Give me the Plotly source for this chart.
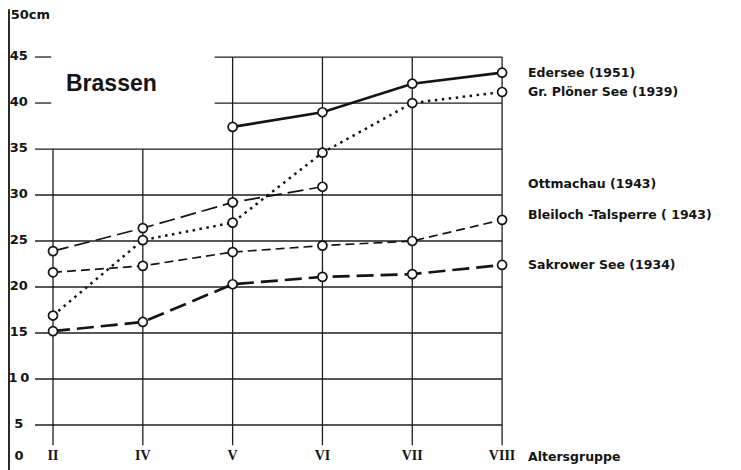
import plotly.graph_objects as go

# ---- data ----
age_groups = ["II", "IV", "V", "VI", "VII", "VIII"]
xpos = list(range(len(age_groups)))

edersee = [None, None, 37.4, 39.0, 42.1, 43.3]
ploener = [16.9, 25.1, 27.0, 34.6, 40.0, 41.2]
ottmachau = [23.9, 26.4, 29.2, 30.9, None, None]
bleiloch = [21.6, 22.3, 23.8, 24.5, 25.0, 27.3]
sakrow = [15.2, 16.2, 20.3, 21.1, 21.4, 22.4]

series_names = ["Edersee (1951)", "Gr. Plöner See (1939)", "Ottmachau (1943)",
                "Bleiloch -Talsperre ( 1943)", "Sakrower See (1934)"]
label_y = [43.3, 41.2, 31.2, 27.9, 22.4]

y_ticks = [5, 10, 15, 20, 25, 30, 35, 40, 45]
y_tick_labels = ["5", "1\u20090", "15", "20", "25", "30", "35", "40", "45"]

INK = "#141414"
GRID = "#1e1e1e"
fig = go.Figure()

# ---- grid (shapes in data coordinates) ----
shapes = []
x_left_grid = -0.2
for v in y_ticks:
    if v >= 40:
        shapes.append(dict(type="line", x0=x_left_grid, x1=-0.02, y0=v, y1=v, layer="below",
                           line=dict(color=GRID, width=1.3)))
        shapes.append(dict(type="line", x0=1.8, x1=xpos[-1], y0=v, y1=v, layer="below",
                           line=dict(color=GRID, width=1.3)))
    else:
        shapes.append(dict(type="line", x0=x_left_grid, x1=xpos[-1], y0=v, y1=v, layer="below",
                           line=dict(color=GRID, width=1.3)))
for i in xpos:
    top = 35 if i < 2 else 45
    shapes.append(dict(type="line", x0=i, x1=i, y0=2.8, y1=top, layer="below",
                       line=dict(color=GRID, width=1.3)))
# left axis line
shapes.append(dict(type="line", x0=-0.49, x1=-0.49, y0=0, y1=50.2, layer="below",
                   line=dict(color=INK, width=1.8)))

marker = dict(symbol="circle", size=9, color="white", line=dict(color=INK, width=1.7))

styles = [
    dict(width=2.7, dash="solid"),
    dict(width=2.5, dash="2.5px,4.5px"),
    dict(width=1.7, dash="16px,6px"),
    dict(width=1.7, dash="9px,5px"),
    dict(width=2.7, dash="17px,7px"),
]
for ys, st, nm in zip([edersee, ploener, ottmachau, bleiloch, sakrow], styles, series_names):
    fig.add_trace(go.Scatter(x=xpos, y=ys, mode="lines+markers", name=nm,
                             line=dict(color=INK, width=st["width"], dash=st["dash"]),
                             marker=marker, connectgaps=False, showlegend=False))

LAB_FONT = dict(family="DejaVu Sans", size=12.5, color=INK, weight="bold")
# series labels
for nm, ly in zip(series_names, label_y):
    fig.add_annotation(x=5.27, y=ly, text=nm, showarrow=False, xanchor="left",
                       yanchor="middle", font=LAB_FONT)

# x tick labels (age groups)
fig.add_trace(go.Scatter(x=xpos, y=[1.6] * len(xpos), mode="text", text=age_groups,
                         textposition="middle center", cliponaxis=False,
                         textfont=dict(family="Liberation Serif", size=14, color=INK, weight="bold"),
                         showlegend=False, hoverinfo="skip"))
# y tick labels
TICK_FONT = dict(family="DejaVu Sans", size=13, color=INK, weight="bold")
fig.add_trace(go.Scatter(x=[-0.38] * len(y_ticks), y=y_ticks, mode="text", text=y_tick_labels,
                         textposition="middle center", cliponaxis=False,
                         textfont=TICK_FONT, showlegend=False, hoverinfo="skip"))
fig.add_trace(go.Scatter(x=[-0.379], y=[1.6], mode="text", text=["0"],
                         textposition="middle center", cliponaxis=False,
                         textfont=TICK_FONT, showlegend=False, hoverinfo="skip"))
fig.add_trace(go.Scatter(x=[-0.47], y=[49.45], mode="text", text=["50cm"],
                         textposition="middle right", cliponaxis=False,
                         textfont=TICK_FONT, showlegend=False, hoverinfo="skip"))
fig.add_annotation(x=5.27, y=1.6, text="Altersgruppe", showarrow=False, xanchor="left",
                   font=LAB_FONT)
fig.add_annotation(x=0.12, y=42.2, text="Brassen", showarrow=False, xanchor="left",
                   font=dict(family="Liberation Sans", size=23, color=INK, weight="bold"))

fig.update_layout(
    width=733, height=462,
    margin=dict(l=0, r=0, t=0, b=0),
    paper_bgcolor="white", plot_bgcolor="white",
    shapes=shapes,
    xaxis=dict(range=[-0.501, 7.66], visible=False, fixedrange=True),
    yaxis=dict(range=[0.109, 50.33], visible=False, fixedrange=True),
)
fig.write_html("out.html")
